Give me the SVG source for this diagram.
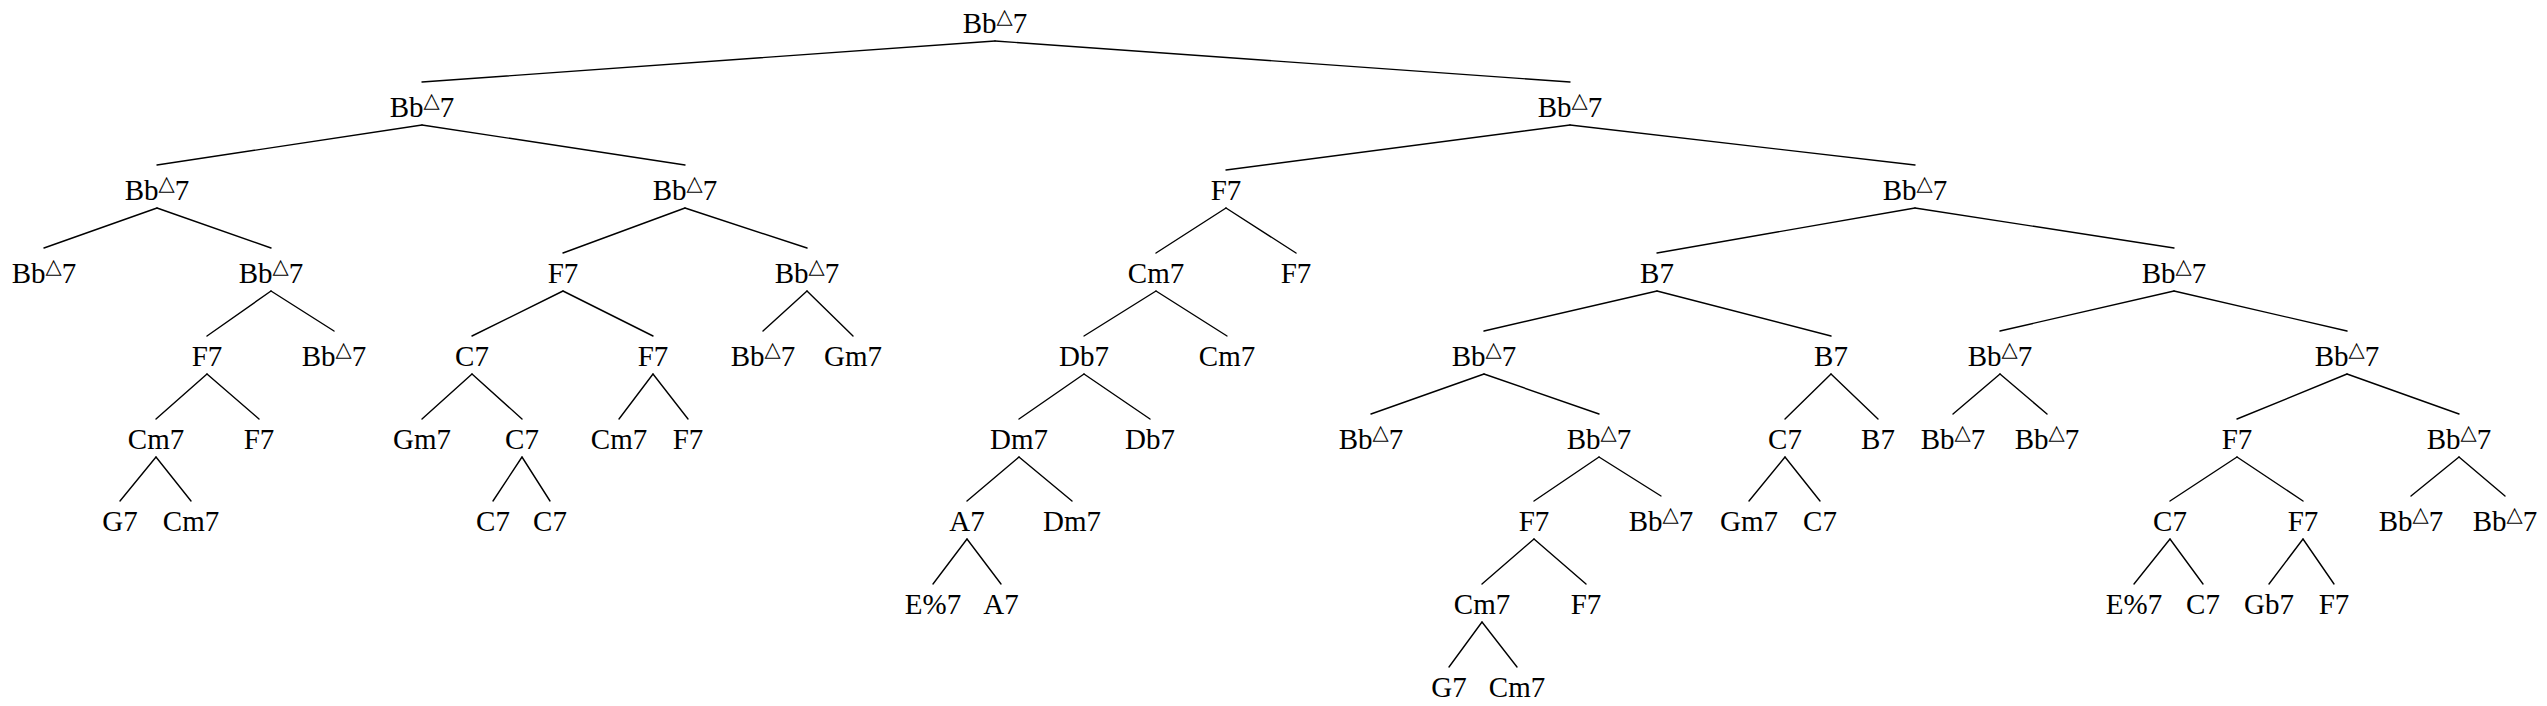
<svg xmlns="http://www.w3.org/2000/svg" width="2547" height="706" viewBox="0 0 2547 706">
<style>
.t{font-family:"Liberation Serif","Times New Roman",serif;font-size:29px;text-anchor:middle;fill:#000}
.tri{font-family:"DejaVu Sans",sans-serif;font-size:21px}
#edges line{stroke:#000;stroke-width:1.4;stroke-linecap:round}
</style>
<rect width="2547" height="706" fill="#fff"/>
<g id="edges">
<line x1="995" y1="41" x2="422" y2="82"/>
<line x1="995" y1="41" x2="1570" y2="82"/>
<line x1="422" y1="125" x2="157" y2="165"/>
<line x1="422" y1="125" x2="685" y2="165"/>
<line x1="157" y1="208" x2="44" y2="248"/>
<line x1="157" y1="208" x2="271" y2="248"/>
<line x1="271" y1="291" x2="207" y2="336"/>
<line x1="271" y1="291" x2="334" y2="331"/>
<line x1="207" y1="374" x2="156" y2="419"/>
<line x1="207" y1="374" x2="259" y2="419"/>
<line x1="156" y1="457" x2="120" y2="501"/>
<line x1="156" y1="457" x2="191" y2="501"/>
<line x1="685" y1="208" x2="563" y2="253"/>
<line x1="685" y1="208" x2="807" y2="248"/>
<line x1="563" y1="291" x2="472" y2="336"/>
<line x1="563" y1="291" x2="653" y2="336"/>
<line x1="472" y1="374" x2="422" y2="419"/>
<line x1="472" y1="374" x2="522" y2="419"/>
<line x1="522" y1="457" x2="493" y2="501"/>
<line x1="522" y1="457" x2="550" y2="501"/>
<line x1="653" y1="374" x2="619" y2="419"/>
<line x1="653" y1="374" x2="688" y2="419"/>
<line x1="807" y1="291" x2="763" y2="331"/>
<line x1="807" y1="291" x2="853" y2="336"/>
<line x1="1570" y1="125" x2="1226" y2="170"/>
<line x1="1570" y1="125" x2="1915" y2="165"/>
<line x1="1226" y1="208" x2="1156" y2="253"/>
<line x1="1226" y1="208" x2="1296" y2="253"/>
<line x1="1156" y1="291" x2="1084" y2="336"/>
<line x1="1156" y1="291" x2="1227" y2="336"/>
<line x1="1084" y1="374" x2="1019" y2="419"/>
<line x1="1084" y1="374" x2="1150" y2="419"/>
<line x1="1019" y1="457" x2="967" y2="501"/>
<line x1="1019" y1="457" x2="1072" y2="501"/>
<line x1="967" y1="539" x2="933" y2="584"/>
<line x1="967" y1="539" x2="1001" y2="584"/>
<line x1="1915" y1="208" x2="1657" y2="253"/>
<line x1="1915" y1="208" x2="2174" y2="248"/>
<line x1="1657" y1="291" x2="1484" y2="331"/>
<line x1="1657" y1="291" x2="1831" y2="336"/>
<line x1="1484" y1="374" x2="1371" y2="414"/>
<line x1="1484" y1="374" x2="1599" y2="414"/>
<line x1="1599" y1="457" x2="1534" y2="501"/>
<line x1="1599" y1="457" x2="1661" y2="496"/>
<line x1="1534" y1="539" x2="1482" y2="584"/>
<line x1="1534" y1="539" x2="1586" y2="584"/>
<line x1="1482" y1="622" x2="1449" y2="667"/>
<line x1="1482" y1="622" x2="1517" y2="667"/>
<line x1="1831" y1="374" x2="1785" y2="419"/>
<line x1="1831" y1="374" x2="1878" y2="419"/>
<line x1="1785" y1="457" x2="1749" y2="501"/>
<line x1="1785" y1="457" x2="1820" y2="501"/>
<line x1="2174" y1="291" x2="2000" y2="331"/>
<line x1="2174" y1="291" x2="2347" y2="331"/>
<line x1="2000" y1="374" x2="1953" y2="414"/>
<line x1="2000" y1="374" x2="2047" y2="414"/>
<line x1="2347" y1="374" x2="2237" y2="419"/>
<line x1="2347" y1="374" x2="2459" y2="414"/>
<line x1="2237" y1="457" x2="2170" y2="501"/>
<line x1="2237" y1="457" x2="2303" y2="501"/>
<line x1="2170" y1="539" x2="2134" y2="584"/>
<line x1="2170" y1="539" x2="2203" y2="584"/>
<line x1="2303" y1="539" x2="2269" y2="584"/>
<line x1="2303" y1="539" x2="2334" y2="584"/>
<line x1="2459" y1="457" x2="2411" y2="496"/>
<line x1="2459" y1="457" x2="2505" y2="496"/>
</g>
<g id="n0"><text class="t" x="995" y="33">Bb<tspan class="tri" dy="-10">△</tspan><tspan dy="10">7</tspan></text></g>
<g id="n1"><text class="t" x="422" y="117">Bb<tspan class="tri" dy="-10">△</tspan><tspan dy="10">7</tspan></text></g>
<g id="n2"><text class="t" x="157" y="200">Bb<tspan class="tri" dy="-10">△</tspan><tspan dy="10">7</tspan></text></g>
<g id="n3"><text class="t" x="44" y="283">Bb<tspan class="tri" dy="-10">△</tspan><tspan dy="10">7</tspan></text></g>
<g id="n4"><text class="t" x="271" y="283">Bb<tspan class="tri" dy="-10">△</tspan><tspan dy="10">7</tspan></text></g>
<g id="n5"><text class="t" x="207" y="366">F7</text></g>
<g id="n6"><text class="t" x="156" y="449">Cm7</text></g>
<g id="n7"><text class="t" x="120" y="531">G7</text></g>
<g id="n8"><text class="t" x="191" y="531">Cm7</text></g>
<g id="n9"><text class="t" x="259" y="449">F7</text></g>
<g id="n10"><text class="t" x="334" y="366">Bb<tspan class="tri" dy="-10">△</tspan><tspan dy="10">7</tspan></text></g>
<g id="n11"><text class="t" x="685" y="200">Bb<tspan class="tri" dy="-10">△</tspan><tspan dy="10">7</tspan></text></g>
<g id="n12"><text class="t" x="563" y="283">F7</text></g>
<g id="n13"><text class="t" x="472" y="366">C7</text></g>
<g id="n14"><text class="t" x="422" y="449">Gm7</text></g>
<g id="n15"><text class="t" x="522" y="449">C7</text></g>
<g id="n16"><text class="t" x="493" y="531">C7</text></g>
<g id="n17"><text class="t" x="550" y="531">C7</text></g>
<g id="n18"><text class="t" x="653" y="366">F7</text></g>
<g id="n19"><text class="t" x="619" y="449">Cm7</text></g>
<g id="n20"><text class="t" x="688" y="449">F7</text></g>
<g id="n21"><text class="t" x="807" y="283">Bb<tspan class="tri" dy="-10">△</tspan><tspan dy="10">7</tspan></text></g>
<g id="n22"><text class="t" x="763" y="366">Bb<tspan class="tri" dy="-10">△</tspan><tspan dy="10">7</tspan></text></g>
<g id="n23"><text class="t" x="853" y="366">Gm7</text></g>
<g id="n24"><text class="t" x="1570" y="117">Bb<tspan class="tri" dy="-10">△</tspan><tspan dy="10">7</tspan></text></g>
<g id="n25"><text class="t" x="1226" y="200">F7</text></g>
<g id="n26"><text class="t" x="1156" y="283">Cm7</text></g>
<g id="n27"><text class="t" x="1084" y="366">Db7</text></g>
<g id="n28"><text class="t" x="1019" y="449">Dm7</text></g>
<g id="n29"><text class="t" x="967" y="531">A7</text></g>
<g id="n30"><text class="t" x="933" y="614">E%7</text></g>
<g id="n31"><text class="t" x="1001" y="614">A7</text></g>
<g id="n32"><text class="t" x="1072" y="531">Dm7</text></g>
<g id="n33"><text class="t" x="1150" y="449">Db7</text></g>
<g id="n34"><text class="t" x="1227" y="366">Cm7</text></g>
<g id="n35"><text class="t" x="1296" y="283">F7</text></g>
<g id="n36"><text class="t" x="1915" y="200">Bb<tspan class="tri" dy="-10">△</tspan><tspan dy="10">7</tspan></text></g>
<g id="n37"><text class="t" x="1657" y="283">B7</text></g>
<g id="n38"><text class="t" x="1484" y="366">Bb<tspan class="tri" dy="-10">△</tspan><tspan dy="10">7</tspan></text></g>
<g id="n39"><text class="t" x="1371" y="449">Bb<tspan class="tri" dy="-10">△</tspan><tspan dy="10">7</tspan></text></g>
<g id="n40"><text class="t" x="1599" y="449">Bb<tspan class="tri" dy="-10">△</tspan><tspan dy="10">7</tspan></text></g>
<g id="n41"><text class="t" x="1534" y="531">F7</text></g>
<g id="n42"><text class="t" x="1482" y="614">Cm7</text></g>
<g id="n43"><text class="t" x="1449" y="697">G7</text></g>
<g id="n44"><text class="t" x="1517" y="697">Cm7</text></g>
<g id="n45"><text class="t" x="1586" y="614">F7</text></g>
<g id="n46"><text class="t" x="1661" y="531">Bb<tspan class="tri" dy="-10">△</tspan><tspan dy="10">7</tspan></text></g>
<g id="n47"><text class="t" x="1831" y="366">B7</text></g>
<g id="n48"><text class="t" x="1785" y="449">C7</text></g>
<g id="n49"><text class="t" x="1749" y="531">Gm7</text></g>
<g id="n50"><text class="t" x="1820" y="531">C7</text></g>
<g id="n51"><text class="t" x="1878" y="449">B7</text></g>
<g id="n52"><text class="t" x="2174" y="283">Bb<tspan class="tri" dy="-10">△</tspan><tspan dy="10">7</tspan></text></g>
<g id="n53"><text class="t" x="2000" y="366">Bb<tspan class="tri" dy="-10">△</tspan><tspan dy="10">7</tspan></text></g>
<g id="n54"><text class="t" x="1953" y="449">Bb<tspan class="tri" dy="-10">△</tspan><tspan dy="10">7</tspan></text></g>
<g id="n55"><text class="t" x="2047" y="449">Bb<tspan class="tri" dy="-10">△</tspan><tspan dy="10">7</tspan></text></g>
<g id="n56"><text class="t" x="2347" y="366">Bb<tspan class="tri" dy="-10">△</tspan><tspan dy="10">7</tspan></text></g>
<g id="n57"><text class="t" x="2237" y="449">F7</text></g>
<g id="n58"><text class="t" x="2170" y="531">C7</text></g>
<g id="n59"><text class="t" x="2134" y="614">E%7</text></g>
<g id="n60"><text class="t" x="2203" y="614">C7</text></g>
<g id="n61"><text class="t" x="2303" y="531">F7</text></g>
<g id="n62"><text class="t" x="2269" y="614">Gb7</text></g>
<g id="n63"><text class="t" x="2334" y="614">F7</text></g>
<g id="n64"><text class="t" x="2459" y="449">Bb<tspan class="tri" dy="-10">△</tspan><tspan dy="10">7</tspan></text></g>
<g id="n65"><text class="t" x="2411" y="531">Bb<tspan class="tri" dy="-10">△</tspan><tspan dy="10">7</tspan></text></g>
<g id="n66"><text class="t" x="2505" y="531">Bb<tspan class="tri" dy="-10">△</tspan><tspan dy="10">7</tspan></text></g>
</svg>
